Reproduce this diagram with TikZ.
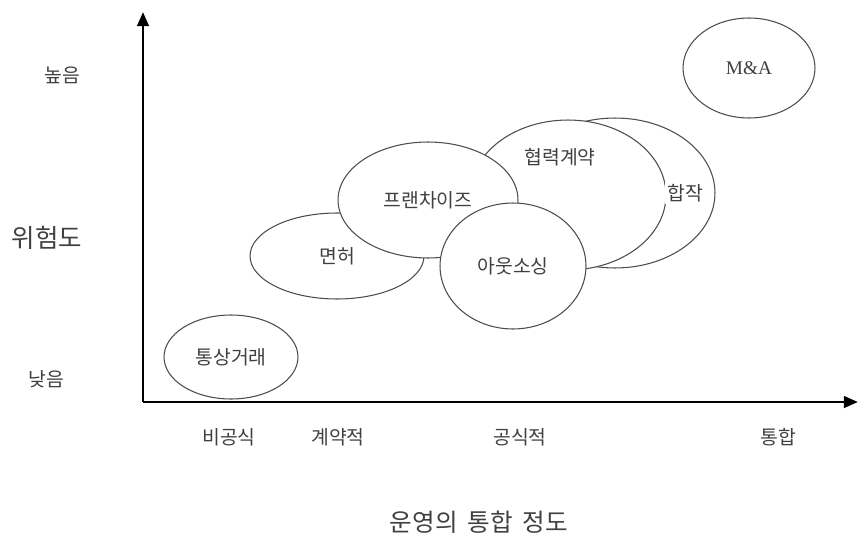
\documentclass[tikz,border=0pt]{standalone}
\usepackage{fontspec}
\setmainfont{Noto Sans CJK KR}
\newfontfamily\serifA{Liberation Serif}
\usetikzlibrary{
  	shapes,
  	arrows.meta,
  	positioning
  }
\definecolor{linegray}{gray}{0.3}
\definecolor{textgray}{gray}{0.25}
\tikzstyle{oval}=[ellipse,draw=linegray,fill=white,line width=0.6pt,inner sep=0pt,text=textgray,font=\fontsize{11}{12}\selectfont]
\tikzstyle{tick}=[text=textgray,font=\fontsize{11}{12}\selectfont]
\tikzstyle{axis}=[line width=1.6pt,-{Triangle[length=8pt,width=6.5pt]}]

\begin{document}
\begin{tikzpicture}[x=0.02cm,y=-0.02cm]
  \useasboundingbox (0,0) rectangle (859,541);
%
  \node [oval, minimum width=4cm, minimum height=3cm] (jv) at (615,193) {};
  \node [oval, minimum width=3.92cm, minimum height=3cm] (coop) at (568,195) {};
  \node [tick, fill=white, inner sep=1pt] (jvlabel) at (685,193) {합작};
  \node [tick] (cooplabel) at (560,157) {협력계약};
  \node [oval, minimum width=3.48cm, minimum height=1.72cm] (lic) at (337,256) {면허};
  \node [oval, minimum width=3.6cm, minimum height=2.32cm] (fran) at (428,200) {프랜차이즈};
  \node [oval, minimum width=2.92cm, minimum height=2.52cm] (out) at (513,266) {아웃소싱};
  \node [oval, minimum width=2.68cm, minimum height=1.68cm] (trade) at (231,357) {통상거래};
  \node [oval, minimum width=2.64cm, minimum height=2cm, font=\serifA\fontsize{11}{12}\selectfont] (ma) at (749,68) {M\&A};
%
  \coordinate (o) at (143,402);
  \coordinate (ytop) at (143,12);
  \coordinate (xend) at (858,402);
  \draw [axis] (o) -- (ytop);
  \draw [axis] (o) -- (xend);
%
  \node [tick] (high) at (62,75) {높음};
  \node [tick] (low) at (46,379) {낮음};
  \node [text=textgray, font=\fontsize{14.5}{16}\selectfont] (risk) at (47,238) {위험도};
  \node [tick] (informal) at (229,437) {비공식};
  \node [tick] (contract) at (338,437) {계약적};
  \node [tick] (formal) at (520,437) {공식적};
  \node [tick] (integ) at (778,437) {통합};
  \node [text=textgray, font=\fontsize{14}{16}\selectfont] (xtitle) at (479,522) {운영의\hspace{0.4em}통합\hspace{0.4em}정도};
\end{tikzpicture}
\end{document}
